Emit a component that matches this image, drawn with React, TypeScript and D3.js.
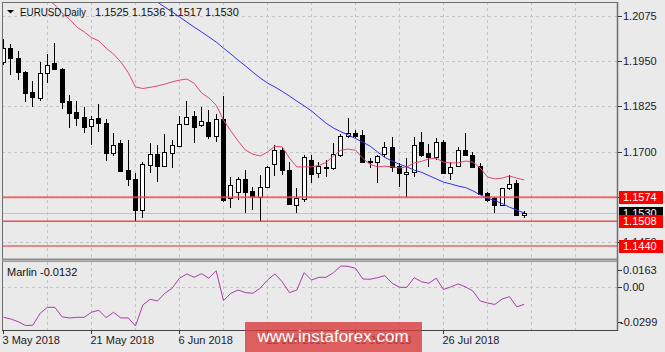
import React from 'react';
import * as d3 from 'd3';

const W = 665;
const H = 352;

const symbolTitle = 'EURUSD,Daily';
const titleValues = '1.1525 1.1536 1.1517 1.1530';
const indicatorName = 'Marlin -0.0132';

const tickDates = ['3 May 2018', '21 May 2018', '6 Jun 2018', '22 Jun 2018', '10 Jul 2018', '26 Jul 2018'];
const tickBars = [0, 12, 24, 36, 48, 60];
const gridBars = [6, 12, 18, 24, 30, 36, 42, 48, 54, 60, 66, 72, 78, 84];
const priceTicks = [1.2075, 1.195, 1.1825, 1.17, 1.1575, 1.145];
const indTicks = [0.0163, 0.0, -0.0299];
const indTickLabels = ['0.0163', '0.00', '-0.0299'];

const levelPrices = [1.1574, 1.1508, 1.144];
const bidPrice = 1.153;

const open = [
  1.1947, 1.1985, 1.1958, 1.1919, 1.1864, 1.1848, 1.1917, 1.1944, 1.1928, 1.1839,
  1.1809, 1.1795, 1.1771, 1.1793, 1.1779, 1.1696, 1.1724, 1.165, 1.1625, 1.1539,
  1.1663, 1.1693, 1.166, 1.1696, 1.1715, 1.1776, 1.1798, 1.1773, 1.1782, 1.1743,
  1.179, 1.1572, 1.1589, 1.1625, 1.1592, 1.1575, 1.1603, 1.1666, 1.1704, 1.1649,
  1.1553, 1.157, 1.1677, 1.1641, 1.1658, 1.1655, 1.1691, 1.1743, 1.1751, 1.1746,
  1.1674, 1.1671, 1.1693, 1.1713, 1.166, 1.1638, 1.1644, 1.1726, 1.1696, 1.1685,
  1.1726, 1.1641, 1.166, 1.1704, 1.1691, 1.166, 1.1586, 1.1572, 1.1553, 1.16,
  1.1614, 1.1525,
];
const high = [
  1.201, 1.1996, 1.1977, 1.1921, 1.1895, 1.1947, 1.1969, 1.1999, 1.193, 1.1856,
  1.1839, 1.1823, 1.1798, 1.1831, 1.179, 1.1751, 1.1732, 1.1732, 1.1641, 1.1671,
  1.1724, 1.1718, 1.1749, 1.1732, 1.1798, 1.1839, 1.1812, 1.1823, 1.1815, 1.1804,
  1.1853, 1.163, 1.163, 1.1649, 1.1603, 1.1636, 1.166, 1.1718, 1.1713, 1.1671,
  1.16, 1.1691, 1.1691, 1.1671, 1.1677, 1.1724, 1.1749, 1.1793, 1.176, 1.176,
  1.1682, 1.169, 1.1726, 1.174, 1.1669, 1.1682, 1.174, 1.1754, 1.1721, 1.1738,
  1.1732, 1.1671, 1.1713, 1.1751, 1.1699, 1.1669, 1.1589, 1.1575, 1.16, 1.1636,
  1.1622, 1.1536,
];
const low = [
  1.1939, 1.1911, 1.1897, 1.1837, 1.1823, 1.1839, 1.1889, 1.1928, 1.1817, 1.1765,
  1.177, 1.1751, 1.1718, 1.1754, 1.1674, 1.1688, 1.1647, 1.1605, 1.151, 1.1517,
  1.1641, 1.1616, 1.1658, 1.1655, 1.1713, 1.1773, 1.1724, 1.1768, 1.1735, 1.1726,
  1.1561, 1.1545, 1.1567, 1.1531, 1.1539, 1.1508, 1.16, 1.1633, 1.1636, 1.1553,
  1.1531, 1.1561, 1.1614, 1.1627, 1.163, 1.1649, 1.1685, 1.1738, 1.1738, 1.1669,
  1.1655, 1.1614, 1.1685, 1.1644, 1.1603, 1.1575, 1.163, 1.1685, 1.1658, 1.1677,
  1.1641, 1.1622, 1.1658, 1.1691, 1.1658, 1.1581, 1.1561, 1.1531, 1.155, 1.1594,
  1.1525, 1.1517,
];
const close = [
  1.1985, 1.1958, 1.1919, 1.1862, 1.185, 1.1917, 1.1939, 1.1928, 1.1837, 1.1806,
  1.1793, 1.1768, 1.179, 1.1779, 1.1696, 1.1718, 1.1647, 1.1625, 1.1539, 1.1666,
  1.1693, 1.166, 1.1699, 1.1718, 1.1776, 1.1795, 1.1768, 1.1784, 1.1743, 1.179,
  1.1567, 1.1608, 1.1625, 1.1589, 1.1578, 1.1603, 1.1658, 1.1704, 1.1649, 1.1556,
  1.1572, 1.1685, 1.1638, 1.166, 1.1655, 1.1693, 1.1743, 1.1751, 1.1743, 1.1671,
  1.1672, 1.1688, 1.1713, 1.1658, 1.1641, 1.1644, 1.1718, 1.1691, 1.1685, 1.1726,
  1.1641, 1.1658, 1.1704, 1.1691, 1.1658, 1.1583, 1.1567, 1.1553, 1.16, 1.1611,
  1.1525, 1.153,
];

const maFast: (number | null)[] = [
  null, null, null, null, null, 1.2137, 1.212, 1.2104, 1.2082, 1.2065,
  1.2043, 1.203, 1.2014, 1.2005, 1.1985, 1.1969, 1.1947, 1.1918, 1.1878, 1.1874,
  1.1877, 1.1881, 1.1886, 1.1892, 1.1897, 1.19, 1.1888, 1.1862, 1.1848, 1.1828,
  1.1787, 1.1757, 1.1729, 1.1704, 1.1693, 1.1688, 1.1699, 1.1715, 1.1713, 1.1682,
  1.1658, 1.1658, 1.1658, 1.1662, 1.167, 1.1688, 1.1704, 1.1707, 1.1704, 1.1681,
  1.1665, 1.1658, 1.166, 1.1658, 1.1655, 1.1658, 1.1669, 1.1673, 1.168, 1.1682,
  1.1671, 1.1669, 1.1669, 1.1674, 1.1671, 1.1655, 1.163, 1.1625, 1.1627, 1.1633,
  1.1627, 1.1622,
];
const maSlow: (number | null)[] = [
  null, null, null, null, null, null, null, null, null, null,
  null, null, null, null, null, null, null, null, null, null,
  1.2126, 1.2112, 1.2098, 1.2085, 1.2071, 1.2057, 1.2043, 1.203, 1.2016, 1.2002,
  1.1985, 1.1969, 1.1952, 1.1936, 1.1919, 1.1903, 1.1889, 1.1878, 1.1866, 1.1853,
  1.1839, 1.1826, 1.1812, 1.1795, 1.1778, 1.1765, 1.1755, 1.1746, 1.1736, 1.1726,
  1.1715, 1.1699, 1.1684, 1.1674, 1.1665, 1.1658, 1.1649, 1.1643, 1.1634, 1.1625,
  1.1616, 1.1611, 1.1605, 1.1601, 1.1592, 1.1581, 1.1572, 1.1565, 1.1557, 1.1547,
  1.1539, 1.1531,
];

const marlin = [
  -0.0232, -0.0245, -0.0266, -0.0295, -0.0293, -0.0201, -0.0155, -0.0155, -0.0229, -0.0237,
  -0.0232, -0.0232, -0.0193, -0.0178, -0.0235, -0.0193, -0.0237, -0.0237, -0.0299, -0.0137,
  -0.0093, -0.0106, -0.0047, -0.0008, 0.0069, 0.0102, 0.0076, 0.0104, 0.0069, 0.0127,
  -0.0104, -0.0047, -0.0022, -0.0042, -0.0047, -0.0008, 0.0055, 0.0102, 0.0042, -0.0042,
  -0.0022, 0.0112, 0.0055, 0.0076, 0.0076, 0.0112, 0.0163, 0.016, 0.0145, 0.0063,
  0.0061, 0.0073, 0.0089, 0.003, -0.0001, -0.0001, 0.0073, 0.0042, 0.003, 0.0069,
  -0.0018, 0.0002, 0.0025, 0.0002, -0.0029, -0.0106, -0.0122, -0.0133, -0.0091, -0.0073,
  -0.0152, -0.0132,
];

const FONT = "'Liberation Sans', Arial, sans-serif";

export default function App() {
  const left = 2;
  const right = 617;
  const top = 2;
  const mainBottom = 259;
  const indTop = 262;
  const indBottom = 330;

  const x = d3.scaleLinear().domain([0, 12]).range([3, 91]);
  const y = d3.scaleLinear().domain([1.144, 1.2075]).range([246, 15.5]);
  const yi = d3.scaleLinear().domain([-0.0299, 0.0163]).range([326, 266]);

  const idx = d3.range(open.length);

  const lineMain = d3
    .line<number | null>()
    .defined((d) => d != null)
    .x((_, i) => x(i) + 0.5)
    .y((d) => y(d as number));

  const lineInd = d3
    .line<number>()
    .x((_, i) => x(i) + 0.5)
    .y((d) => yi(d));

  const gridXs = gridBars.map((b) => Math.round(x(b)) + 0.5).filter((v) => v < right);

  const levelStyles = [
    { color: '#ec5050', width: 2, opacity: 0.8 },
    { color: '#f23c3c', width: 1.6, opacity: 0.9 },
    { color: '#e52a2a', width: 1, opacity: 1 },
  ];

  const boxX = 619;
  const boxW = 44;
  const boxH = 13;

  return (
    <svg width={W} height={H} viewBox={`0 0 ${W} ${H}`} style={{ position: 'absolute', left: 0, top: 0, background: '#eaeaea' }} fontFamily={FONT}>
      <defs>
        <clipPath id="mainClip">
          <rect x={left} y={top} width={right - left} height={mainBottom - top} />
        </clipPath>
        <clipPath id="indClip">
          <rect x={left} y={indTop} width={right - left} height={indBottom - indTop} />
        </clipPath>
      </defs>
      <rect x={0} y={0} width={W} height={H} fill="#eaeaea" />

      {/* grid main */}
      <g stroke="#c4c4c4" strokeWidth={1} strokeDasharray="3,3">
        {gridXs.map((gx, i) => (
          <line key={'gv' + i} x1={gx} x2={gx} y1={top} y2={mainBottom} />
        ))}
        {priceTicks.map((p, i) => (
          <line key={'gh' + i} x1={left} x2={right} y1={Math.round(y(p)) + 0.5} y2={Math.round(y(p)) + 0.5} />
        ))}
        {gridXs.map((gx, i) => (
          <line key={'gvi' + i} x1={gx} x2={gx} y1={indTop} y2={indBottom} />
        ))}
        <line x1={left} x2={right} y1={Math.round(yi(0)) + 0.5} y2={Math.round(yi(0)) + 0.5} />
      </g>

      {/* bid line */}
      <line x1={left} x2={right} y1={Math.round(y(bidPrice)) + 0.5} y2={Math.round(y(bidPrice)) + 0.5} stroke="#c2c2c2" strokeWidth={1} />

      {/* candles */}
      <g clipPath="url(#mainClip)">
        {idx.map((i) => {
          const cx = Math.round(x(i));
          const o = open[i];
          const c = close[i];
          const yt = Math.round(y(Math.max(o, c)));
          const yb = Math.round(y(Math.min(o, c)));
          const bull = c > o;
          return (
            <g key={'c' + i}>
              <line x1={cx + 0.5} x2={cx + 0.5} y1={Math.round(y(high[i]))} y2={Math.round(y(low[i]))} stroke="#000" strokeWidth={1} />
              <rect x={cx - 1.5} y={yt + 0.5} width={4} height={Math.max(1, yb - yt)} fill={bull ? '#fff' : '#000'} stroke="#000" strokeWidth={1} />
            </g>
          );
        })}
        <path d={lineMain(maSlow) || ''} fill="none" stroke="#3030f0" strokeWidth={1} />
        <path d={lineMain(maFast) || ''} fill="none" stroke="#e2486a" strokeWidth={1} />
        {levelPrices.map((p, i) => (
          <line
            key={'lv' + i}
            x1={left}
            x2={right}
            y1={y(p)}
            y2={y(p)}
            stroke={levelStyles[i].color}
            strokeWidth={levelStyles[i].width}
            strokeOpacity={levelStyles[i].opacity}
          />
        ))}
      </g>

      {/* indicator line */}
      <g clipPath="url(#indClip)">
        <path d={lineInd(marlin) || ''} fill="none" stroke="#aa3cab" strokeWidth={1} />
      </g>

      {/* frames */}
      <g fill="none" stroke="#6e6e6e">
        <line x1={left + 0.5} x2={left + 0.5} y1={top} y2={indBottom} strokeWidth={1} />
        <line x1={left} x2={right} y1={top + 0.5} y2={top + 0.5} strokeWidth={1} />
        <line x1={right + 0.5} x2={right + 0.5} y1={top} y2={indBottom + 1} strokeWidth={1.5} />
        <line x1={left} x2={right} y1={mainBottom + 0.5} y2={mainBottom + 0.5} strokeWidth={2} stroke="#8a8a8a" />
        <line x1={left} x2={right} y1={indTop - 0.5} y2={indTop - 0.5} strokeWidth={1} stroke="#9a9a9a" />
        <line x1={left} x2={right + 1} y1={indBottom + 0.5} y2={indBottom + 0.5} strokeWidth={1.2} stroke="#444" />
      </g>

      {/* price axis */}
      <g fontSize={11} fill="#1a1a2a">
        {priceTicks.map((p, i) => (
          <g key={'pt' + i}>
            <line x1={right + 1} x2={right + 5} y1={Math.round(y(p)) + 0.5} y2={Math.round(y(p)) + 0.5} stroke="#333" />
            <text x={623} y={y(p) + 4}>{p.toFixed(4)}</text>
          </g>
        ))}
        {indTicks.map((v, i) => {
          const ty = Math.min(322, Math.max(270, yi(v)));
          return (
            <g key={'it' + i}>
              <line x1={right + 1} x2={right + 5} y1={Math.round(ty) + 0.5} y2={Math.round(ty) + 0.5} stroke="#333" />
              <text x={i === 2 ? 620 : 623} y={ty + 4}>{indTickLabels[i]}</text>
            </g>
          );
        })}
      </g>

      {/* level labels */}
      <g fontSize={11}>
        {[levelPrices[0]].map((p, i) => (
          <g key={'lb0' + i}>
            <rect x={boxX} y={Math.round(y(p)) - 6} width={boxW} height={boxH} fill="#ff0000" />
            <text x={623} y={y(p) + 4} fill="#fff">{p.toFixed(4)}</text>
          </g>
        ))}
        <rect x={boxX} y={Math.round(y(bidPrice)) - 6} width={boxW} height={boxH} fill="#000" />
        <text x={623} y={y(bidPrice) + 4} fill="#fff">{bidPrice.toFixed(4)}</text>
        {levelPrices.slice(1).map((p, i) => (
          <g key={'lb' + i}>
            <rect x={boxX} y={Math.round(y(p)) - 6} width={boxW} height={boxH} fill="#ff0000" />
            <text x={623} y={y(p) + 4} fill="#fff">{p.toFixed(4)}</text>
          </g>
        ))}
      </g>

      {/* time axis */}
      <g fontSize={11} fill="#1a1a2a">
        {tickBars.map((b, i) => {
          const tx = Math.round(x(b)) + 0.5;
          return (
            <g key={'tb' + i}>
              <line x1={tx} x2={tx} y1={indBottom} y2={indBottom + 4} stroke="#333" />
              <text x={tx - 1} y={344}>{tickDates[i]}</text>
            </g>
          );
        })}
      </g>

      {/* titles */}
      <path d="M7,10 L14,10 L10.5,13.5 Z" fill="#000" />
      <text x={20} y={16} fontSize={11} fill="#111" textLength={66} lengthAdjust="spacingAndGlyphs">{symbolTitle}</text>
      <text x={95} y={16} fontSize={11} fill="#111">{titleValues}</text>
      <text x={7} y={276} fontSize={11} fill="#111">{indicatorName}</text>

      {/* watermark */}
      <rect x={245} y={322} width={177} height={30} fill="#d93b3b" fillOpacity={0.8} />
      <text x={333} y={342} fontSize={17} fill="#fff" textAnchor="middle">www.instaforex.com</text>
    </svg>
  );
}
